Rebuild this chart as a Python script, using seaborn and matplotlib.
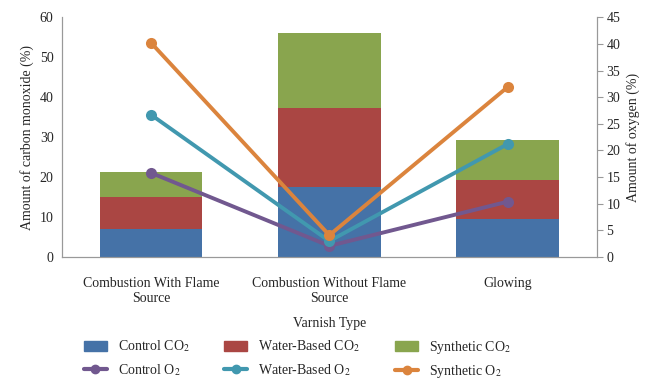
import numpy as np
import pandas as pd
import matplotlib
matplotlib.use("Agg")
import matplotlib.pyplot as plt
import seaborn as sns
from matplotlib.patches import Patch
from matplotlib.lines import Line2D

categories = ["Combustion With Flame\nSource", "Combustion Without Flame\nSource", "Glowing"]

# CO2 (left axis, stacked)
control_co2 = [7.0, 17.5, 9.5]
water_co2 = [8.0, 19.8, 9.75]
synthetic_co2 = [6.2, 18.7, 9.95]

# O2 (right axis)
control_o2 = [15.8, 2.1, 10.4]
water_o2 = [26.7, 3.0, 21.2]
synthetic_o2 = [40.2, 4.1, 31.9]

sns.set_theme(style="white")
plt.rcParams['font.family'] = ['Liberation Serif', 'DejaVu Serif']
plt.rcParams['mathtext.fontset'] = 'stix'

c_blue, c_red, c_green = "#4572A7", "#AA4643", "#89A54E"
c_purple, c_teal, c_orange = "#71588F", "#4198AF", "#DB843D"

fig = plt.figure(figsize=(6.58, 3.82), dpi=100)
ax = fig.add_axes([0.094, 0.327, 0.813, 0.628])

df = pd.DataFrame({
    "cat": categories,
    "c": control_co2,
    "cw": np.add(control_co2, water_co2),
    "cws": np.add(np.add(control_co2, water_co2), synthetic_co2),
})

# overlay cumulative totals to get the stacked look
for col, colour in [("cws", c_green), ("cw", c_red), ("c", c_blue)]:
    sns.barplot(data=df, x="cat", y=col, color=colour, saturation=1, width=0.575,
                linewidth=0, ax=ax)

ax.set_ylim(0, 60)
ax.set_yticks(range(0, 61, 10))
ax.set_xlim(-0.5, 2.5)
ax.set_ylabel("Amount of carbon monoxide (%)", fontsize=10)
ax.set_xlabel("Varnish Type", fontsize=10, labelpad=9)
ax.tick_params(axis="x", length=0, labelsize=10, pad=14)
ax.tick_params(axis="y", length=0, labelsize=10, pad=6)

ax2 = ax.twinx()
xs = np.arange(len(categories))
for vals, col in [(control_o2, c_purple), (water_o2, c_teal), (synthetic_o2, c_orange)]:
    sns.lineplot(x=xs, y=vals, color=col, linewidth=2.8, marker="o", markersize=8,
                 markeredgewidth=0, ax=ax2)
ax2.set_ylim(0, 45)
ax2.set_yticks(range(0, 46, 5))
ax2.set_ylabel("Amount of oxygen (%)", fontsize=10)
ax2.tick_params(axis="y", length=4, width=0.8, color="#999999", labelsize=10, pad=3)

for a in (ax, ax2):
    a.spines["top"].set_visible(False)
    for s in ("left", "right", "bottom"):
        a.spines[s].set_color("#999999")
        a.spines[s].set_linewidth(0.8)

handles = [
    Patch(color=c_blue), Line2D([], [], color=c_purple, lw=3, marker="o", ms=6),
    Patch(color=c_red), Line2D([], [], color=c_teal, lw=3, marker="o", ms=6),
    Patch(color=c_green), Line2D([], [], color=c_orange, lw=3, marker="o", ms=6),
]
labels = ["Control CO$_2$", "Control O$_2$", "Water-Based CO$_2$", "Water-Based O$_2$",
          "Synthetic CO$_2$", "Synthetic O$_2$"]
fig.legend(handles, labels, ncol=3, loc="lower center", bbox_to_anchor=(0.452, -0.028),
           frameon=False, fontsize=10, columnspacing=2.5, handlelength=1.65,
           handletextpad=0.8, labelspacing=0.55)

fig.savefig("out.png", dpi=100)
